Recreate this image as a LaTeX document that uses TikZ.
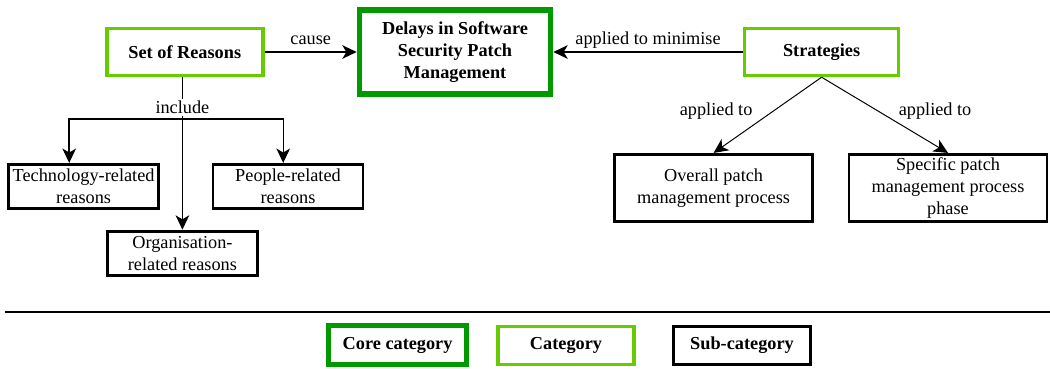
\documentclass[tikz,border=0pt]{standalone}
\usepackage{fontspec}
\setmainfont{Liberation Serif}
\usetikzlibrary{positioning,arrows.meta}
\definecolor{coregreen}{RGB}{0,153,0}
\definecolor{catgreen}{RGB}{102,204,0}
\newcommand{\diagfont}{\fontsize{13}{15.6}\selectfont}
\tikzset{
  flowarrow/.style={-{Stealth[length=3.6mm, width=3.4mm, inset=1mm]}, line width=1pt},
  corebox/.style={draw=coregreen, line width=3.8pt, fill=white, minimum width=4.78cm, minimum height=2.1cm, align=center, font=\diagfont\bfseries},
  catbox/.style={draw=catgreen, line width=2.6pt, fill=white, minimum width=3.9cm, minimum height=1.17cm, align=center, font=\diagfont\bfseries},
  subbox/.style={draw, line width=2.1pt, fill=white, minimum width=3.75cm, minimum height=1.1cm, align=center, inner sep=2pt},
  relabel/.style={fill=white, inner sep=1.5pt},
  linklabel/.style={text height=0.7em, text depth=0.25em}
}

\begin{document}
\begin{tikzpicture}[>=Stealth, every node/.style={font=\diagfont}]
  \useasboundingbox (0,0) rectangle (26.25,-9.2);
  % categories
  \node[catbox] (reasons) at (4.62,-1.3) {Set of Reasons};
  \node[corebox] (delays) at (11.375,-1.3) {Delays in Software\\Security Patch\\Management};
  \node[catbox, minimum width=3.85cm] (strat) at (20.54,-1.3) {Strategies};
  % sub-categories
  \node[subbox] (tech) at (2.09,-4.66) {Technology-related\\reasons};
  \node[subbox] (people) at (7.2,-4.66) {People-related\\reasons};
  \node[subbox] (org) at (4.56,-6.33) {Organisation-\\related reasons};
  \node[subbox, minimum width=4.95cm, minimum height=1.68cm] (overall) at (17.84,-4.7) {Overall patch\\management process};
  \node[subbox, minimum width=4.95cm, minimum height=1.68cm, inner ysep=0pt] (specific) at (23.7,-4.7) {Specific patch\\management process\\phase};
  % links
  \draw[flowarrow] (reasons) -- node[linklabel, above=-1pt]{cause} (delays);
  \draw[flowarrow] (strat) -- node[linklabel, above=-1pt]{applied to minimise} (delays);
  \coordinate (split) at (4.56,-2.975);
  \draw[flowarrow] (reasons.south -| org.north) -- node[relabel, pos=0.2]{include} (org.north);
  \draw[flowarrow] (split) -| ([xshift=-0.36cm]tech.north);
  \draw[flowarrow] (split) -| ([xshift=-0.12cm]people.north);
  \draw[flowarrow, line width=0.7pt] (strat.south) -- node[left=0.25cm, yshift=0.1cm]{applied to} (overall.north);
  \draw[flowarrow, line width=0.7pt] (strat.south) -- node[right=0.22cm, yshift=0.1cm]{applied to} (specific.north);
  % legend
  \coordinate (rule west) at (0.125,-7.8);
  \coordinate (rule east) at (26.25,-7.8);
  \draw[line width=2pt] (rule west) -- (rule east);
  \node[corebox, minimum width=3.45cm, minimum height=0.98cm] (legcore) at (9.94,-8.625) {Core category};
  \node[catbox, minimum width=3.4cm, minimum height=0.95cm] (legcat) at (14.15,-8.64) {Category};
  \node[subbox, minimum width=3.43cm, minimum height=0.95cm, font=\diagfont\bfseries] (legsub) at (18.55,-8.64) {Sub-category};
\end{tikzpicture}
\end{document}
